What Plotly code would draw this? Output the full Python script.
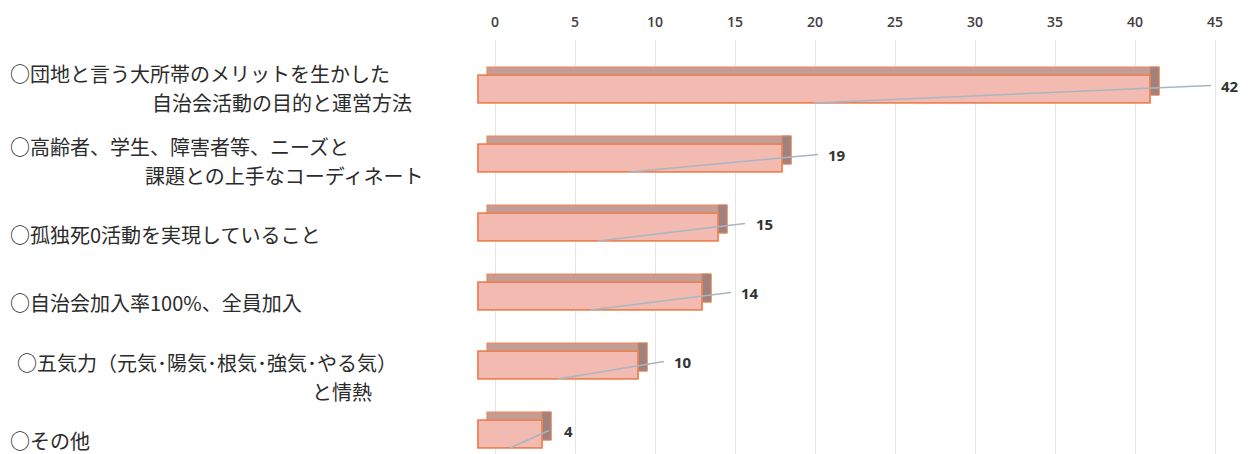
import plotly.graph_objects as go

# ---- data ----
categories = [
    ["○団地と言う大所帯のメリットを生かした", "自治会活動の目的と運営方法"],
    ["○高齢者、学生、障害者等、ニーズと", "課題との上手なコーディネート"],
    ["○孤独死0活動を実現していること"],
    ["○自治会加入率100%、全員加入"],
    ["○五気力（元気･陽気･根気･強気･やる気）", "と情熱"],
    ["○その他"],
]
values = [42, 19, 15, 14, 10, 4]
tick_values = [0, 5, 10, 15, 20, 25, 30, 35, 40, 45]

# ---- style / layout config ----
W, H = 1252, 454
L, R, T, B = 470, 12, 40, 0
PX_PER_UNIT = 16.0
FRONT_ZERO_PX = 478          # where 0 sits on the front face of the bars
GRID_ZERO_PX = 495           # where 0 sits on the back wall (grid/ticks)
ROW0_PX, ROW_STEP = 89.0, 69.0
DEPTH_X_PX, DEPTH_Y_PX = 9.0, 8.0
label_shift_px = [80, 55, 46, 48, 45, 26]   # value label offset from bar end
first_line_start_px = {4: 15}
second_line_start_px = {0: 150, 1: 143, 4: 310}
label_down_px = [-1, 3, 7, 6, 12, 6]        # label block offset from bar centre
LINE_GAP = 29
LABEL_FONT = dict(family="Noto Sans CJK JP", size=20, color="#2b2b2b")

plot_w = W - L - R

x_lo = (L - FRONT_ZERO_PX) / PX_PER_UNIT
x_hi = (W - R - FRONT_ZERO_PX) / PX_PER_UNIT
x2_lo = (L - GRID_ZERO_PX) / PX_PER_UNIT
x2_hi = (W - R - GRID_ZERO_PX) / PX_PER_UNIT
y_top = (T - ROW0_PX) / ROW_STEP
y_bot = (H - B - ROW0_PX) / ROW_STEP

idx = list(range(len(values)))
dx = DEPTH_X_PX / PX_PER_UNIT
dy = DEPTH_Y_PX / ROW_STEP
bar_w = 0.405

fig = go.Figure()

# dummy trace to draw the back-wall axis (grid + top tick labels)
fig.add_trace(go.Scatter(x=[0], y=[0], xaxis="x2", yaxis="y", mode="markers",
                         marker=dict(opacity=0, size=1), hoverinfo="skip",
                         showlegend=False))

# top face (back part) of the 3D bars
fig.add_trace(go.Bar(
    x=values, y=[i - dy for i in idx], base=dx, orientation="h", width=bar_w,
    marker=dict(color="#c39d96", line=dict(color="#ea8a5c", width=1.2)),
    hoverinfo="skip", showlegend=False))

# right side face of the 3D bars
fig.add_trace(go.Bar(
    x=[dx] * len(values), y=[i - dy for i in idx], base=values,
    orientation="h", width=bar_w,
    marker=dict(color="#9f827d", line=dict(color="#d9835e", width=1)),
    hoverinfo="skip", showlegend=False))

# front face of the bars
fig.add_trace(go.Bar(
    x=values, y=idx, orientation="h", width=bar_w,
    marker=dict(color="#f3bab2", line=dict(color="#ec8355", width=1.8)),
    showlegend=False))

# leader lines (label -> bar)
for i, v in zip(idx, values):
    end_x = v + (label_shift_px[i] - 19) / PX_PER_UNIT
    fig.add_trace(go.Scatter(
        x=[v / 2, end_x], y=[i + bar_w / 2, i - 0.05], mode="lines",
        line=dict(color="#a9b5c2", width=1.5), hoverinfo="skip",
        showlegend=False))

annotations = []
# value labels
for i, v in zip(idx, values):
    annotations.append(dict(
        x=v, y=i - 0.04, xref="x", yref="y", text=str(v), showarrow=False,
        xanchor="center", xshift=label_shift_px[i],
        font=dict(family="Open Sans", size=15, color="#333333", weight=700)))


def px_to_paper(px):
    return (px - L) / plot_w


# category labels
for i, lines in enumerate(categories):
    x1 = px_to_paper(first_line_start_px.get(i, 8))
    if len(lines) == 1:
        annotations.append(dict(
            x=x1, y=i, xref="paper", yref="y", text=lines[0],
            showarrow=False, xanchor="left", yanchor="middle",
            yshift=-label_down_px[i], font=LABEL_FONT))
    else:
        annotations.append(dict(
            x=x1, y=i, xref="paper", yref="y", text=lines[0],
            showarrow=False, xanchor="left", yanchor="middle",
            yshift=-label_down_px[i] + LINE_GAP / 2, font=LABEL_FONT))
        annotations.append(dict(
            x=px_to_paper(second_line_start_px[i]), y=i, xref="paper",
            yref="y", text=lines[1], showarrow=False, xanchor="left",
            yanchor="middle", yshift=-label_down_px[i] - LINE_GAP / 2,
            font=LABEL_FONT))

fig.update_layout(
    width=W, height=H,
    margin=dict(l=L, r=R, t=T, b=B, pad=0),
    paper_bgcolor="white", plot_bgcolor="white",
    barmode="overlay",
    showlegend=False,
    annotations=annotations,
    xaxis=dict(range=[x_lo, x_hi], visible=False, showgrid=False,
               zeroline=False, fixedrange=True),
    xaxis2=dict(range=[x2_lo, x2_hi], overlaying="x", side="top", anchor="y",
                tickmode="array", tickvals=tick_values,
                ticktext=[str(t) for t in tick_values],
                showgrid=True, gridcolor="#e6e6e6", gridwidth=1,
                zeroline=False, showline=False,
                ticks="outside", ticklen=6, tickcolor="rgba(0,0,0,0)",
                tickfont=dict(family="Open Sans", size=14, color="#404040",
                              weight=600)),
    yaxis=dict(range=[y_bot, y_top], visible=False, showgrid=False,
               zeroline=False),
)

fig.write_html("out.html", config={"displayModeBar": False},
               post_script="document.body.style.margin='0';")
